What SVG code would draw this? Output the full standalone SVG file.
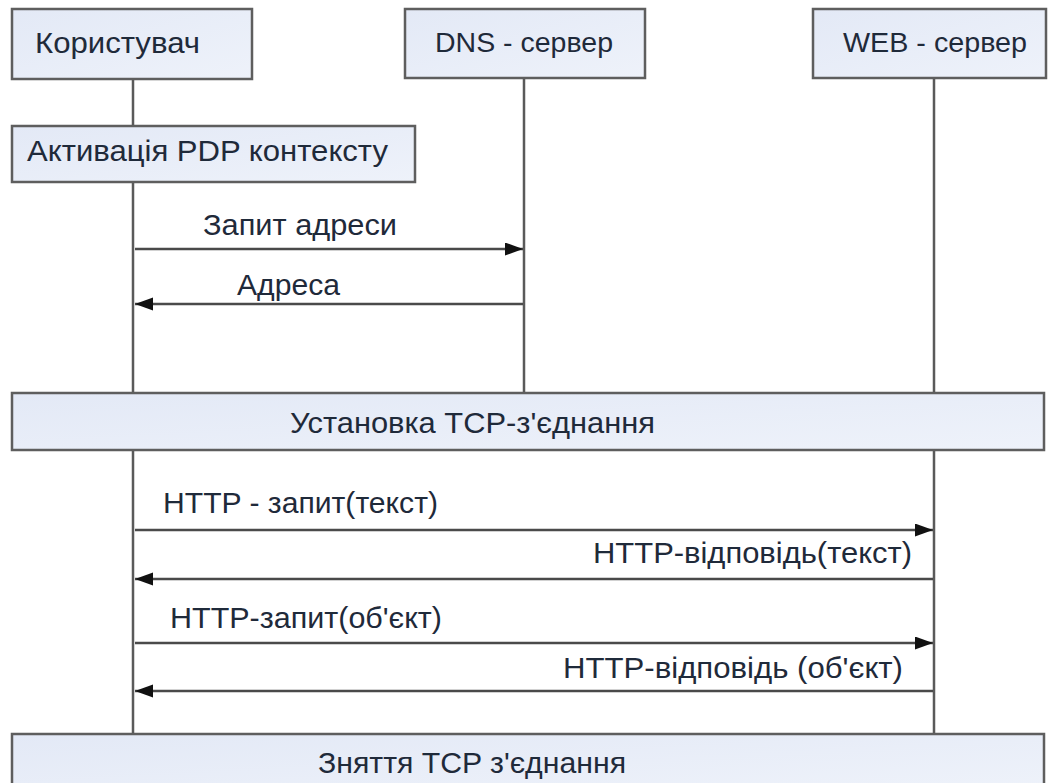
<svg xmlns="http://www.w3.org/2000/svg" width="1049" height="783" viewBox="0 0 1049 783">
<style>
.box{fill:url(#bg);stroke:#5e5e5e;stroke-width:2.5}
.life{stroke:#5a5a5a;stroke-width:2.5;fill:none}
.msg{stroke:#4a4a4a;stroke-width:2.5;fill:none;marker-end:url(#ah)}
.t{font-family:"Liberation Sans",Arial,sans-serif;font-size:30px;fill:#1f2a3a}
.h{font-family:"Liberation Sans",Arial,sans-serif;font-size:28px;fill:#1f2a3a}
</style>
<defs>
<linearGradient id="bg" x1="0" y1="0" x2="1" y2="1">
<stop offset="0" stop-color="#e3e9f6"/>
<stop offset="1" stop-color="#eef2fa"/>
</linearGradient>
<marker id="ah" markerUnits="userSpaceOnUse" markerWidth="20" markerHeight="14" refX="18" refY="6.5" orient="auto">
<path d="M0,0 L18,6.5 L0,13 z" fill="#111"/>
</marker>
</defs>
<g id="lifelines">
<path class="life" d="M133,79 V126 M133,182 V393 M133,450 V734"/>
<path class="life" d="M524,78 V393"/>
<path class="life" d="M934,78 V393 M934,450 V734"/>
</g>
<g id="connectors">
<line class="msg" x1="135" y1="249" x2="523" y2="249"/>
<line class="msg" x1="523" y1="304" x2="135" y2="304"/>
<line class="msg" x1="135" y1="530" x2="933" y2="530"/>
<line class="msg" x1="933" y1="579" x2="135" y2="579"/>
<line class="msg" x1="135" y1="643" x2="933" y2="643"/>
<line class="msg" x1="933" y1="691" x2="135" y2="691"/>
</g>
<g id="labels">
<text class="t" x="203" y="235" textLength="194" lengthAdjust="spacingAndGlyphs">Запит адреси</text>
<text class="t" x="237" y="295" textLength="103" lengthAdjust="spacingAndGlyphs">Адреса</text>
<text class="t" x="163" y="513" textLength="275" lengthAdjust="spacingAndGlyphs">HTTP - запит(текст)</text>
<text class="t" x="593" y="563" textLength="319" lengthAdjust="spacingAndGlyphs">HTTP-відповідь(текст)</text>
<text class="t" x="170" y="628" textLength="272" lengthAdjust="spacingAndGlyphs">HTTP-запит(об'єкт)</text>
<text class="t" x="563" y="678" textLength="340" lengthAdjust="spacingAndGlyphs">HTTP-відповідь (об'єкт)</text>
</g>
<g id="user">
<rect class="box" x="12" y="9" width="240" height="70"/>
<text class="t" x="35" y="53" textLength="165" lengthAdjust="spacingAndGlyphs">Користувач</text>
</g>
<g id="dns">
<rect class="box" x="405" y="9" width="240" height="69"/>
<text class="h" x="435" y="52" textLength="178" lengthAdjust="spacingAndGlyphs">DNS - сервер</text>
</g>
<g id="web">
<rect class="box" x="813" y="9" width="233" height="69"/>
<text class="h" x="843" y="52" textLength="184" lengthAdjust="spacingAndGlyphs">WEB - сервер</text>
</g>
<g id="pdp">
<rect class="box" x="12" y="126" width="403" height="56"/>
<text class="t" x="27" y="161" textLength="361" lengthAdjust="spacingAndGlyphs">Активація PDP контексту</text>
</g>
<g id="tcp-open">
<rect class="box" x="12" y="393" width="1032" height="57"/>
<text class="t" x="290" y="433" textLength="365" lengthAdjust="spacingAndGlyphs">Установка TCP-з'єднання</text>
</g>
<g id="tcp-close">
<rect class="box" x="12" y="734" width="1032" height="56"/>
<text class="t" x="318" y="773" textLength="308" lengthAdjust="spacingAndGlyphs">Зняття TCP з'єднання</text>
</g>
</svg>
